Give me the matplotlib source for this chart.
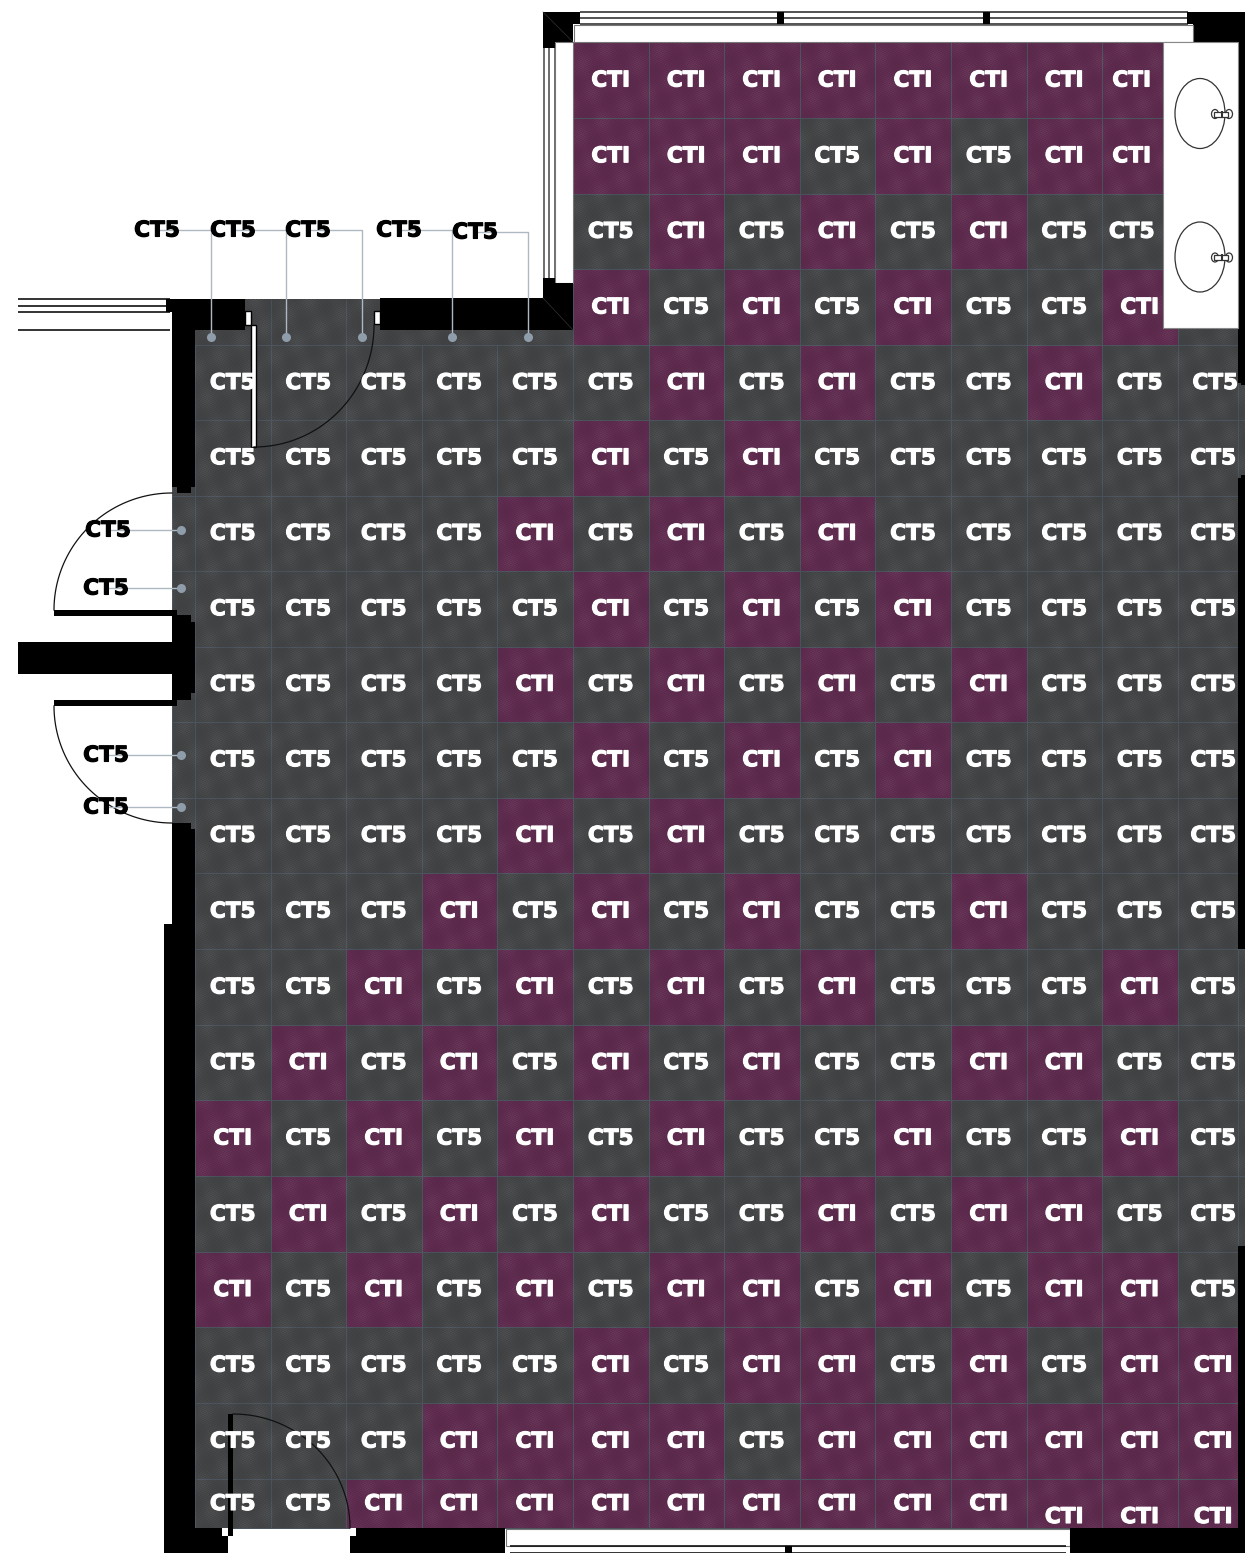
import numpy as np
import matplotlib
matplotlib.use("Agg")
import matplotlib.pyplot as plt
import matplotlib.patheffects as pe
from matplotlib.colors import ListedColormap
from matplotlib.patches import Rectangle, Ellipse

# ---- data: finish code for each floor cell, top row first ('.' = no cell) ----
rows = [
    ". . . . . I I I I I I I I .",
    ". . . . . I I I 5 I 5 I I .",
    ". . . . . 5 I 5 I 5 I 5 5 .",
    ". . . . . I 5 I 5 I 5 5 I .",
    "5 5 5 5 5 5 I 5 I 5 5 I 5 5",
    "5 5 5 5 5 I 5 I 5 5 5 5 5 5",
    "5 5 5 5 I 5 I 5 I 5 5 5 5 5",
    "5 5 5 5 5 I 5 I 5 I 5 5 5 5",
    "5 5 5 5 I 5 I 5 I 5 I 5 5 5",
    "5 5 5 5 5 I 5 I 5 I 5 5 5 5",
    "5 5 5 5 I 5 I 5 5 5 5 5 5 5",
    "5 5 5 I 5 I 5 I 5 5 I 5 5 5",
    "5 5 I 5 I 5 I 5 I 5 5 5 I 5",
    "5 I 5 I 5 I 5 I 5 5 I I 5 5",
    "I 5 I 5 I 5 I 5 5 I 5 5 I 5",
    "5 I 5 I 5 I 5 5 I 5 I I 5 5",
    "I 5 I 5 I 5 I I 5 I 5 I I 5",
    "5 5 5 5 5 I 5 I I 5 I 5 I I",
    "5 5 5 I I I I 5 I I I I I I",
    "5 5 I I I I I I I I I I I I",
]
code_names = {"5": "CT5", "I": "CTI"}
callouts = ["CT5"] * 9

# ---- layout (pixel space of the plan) ----
col_edges = [195, 270.5, 346, 421.5, 497, 573, 648.5, 724, 799.5, 875, 951, 1026.5, 1102, 1177.5, 1238]
row_edges = [42, 118, 193.5, 269, 345, 420, 495.5, 571, 646.5, 722, 797.5, 873, 949, 1025, 1100, 1176,
             1252, 1327, 1403, 1479, 1528]
C5 = "#434446"
CI = "#5e2b4e"
GRID = "#4b545e"
BK = "#000000"
LEAD = "#aeb8c2"
DOT = "#8f9dab"
FS = 15.6
cmap = ListedColormap([C5, CI])

fig = plt.figure(figsize=(12.45, 15.53), dpi=100, facecolor="white")
ax = fig.add_axes([0, 0, 1, 1])
ax.set_xlim(0, 1245)
ax.set_ylim(1553, 0)
ax.axis("off")


def box(x0, y0, x1, y1, fc=BK, ec=None, lw=0, z=3):
    ax.add_patch(Rectangle((x0, y0), x1 - x0, y1 - y0, facecolor=fc, edgecolor=ec if ec else fc,
                           linewidth=lw, zorder=z))


def hline(y, x0, x1, c="#222222", lw=1.0, z=3):
    ax.plot([x0, x1], [y, y], color=c, lw=lw, zorder=z, solid_capstyle="butt")


def vline(x, y0, y1, c="#222222", lw=1.0, z=3):
    ax.plot([x, x], [y0, y1], color=c, lw=lw, zorder=z, solid_capstyle="butt")


def arc(cx, cy, rx, ry, t0, t1):
    t = np.radians(np.linspace(t0, t1, 80))
    ax.plot(cx + rx * np.cos(t), cy + ry * np.sin(t), color="#111111", lw=0.9, zorder=5)


# floor cells
num = {".": 0, "5": 0, "I": 1}
Z = np.array([[num[c] for c in r.split()] for r in rows], dtype=float)
ex = np.array(col_edges, float)
ey = np.array(row_edges, float)

# strip of floor behind the north wall and beside the vanity
box(172, 299, 1245, 346, fc=C5, z=0.5)
vline(270.5, 299, 345, c=GRID, lw=0.7, z=0.6)
vline(346, 299, 345, c=GRID, lw=0.7, z=0.6)
# lower room, with slim extra strips at both walls
Zlow = np.column_stack([Z[4:, 0], Z[4:, :], Z[4:, -1]])
ax.pcolormesh(np.r_[172, ex, 1245], ey[4:], Zlow, cmap=cmap, vmin=0, vmax=1,
              edgecolors=GRID, linewidth=0.7, zorder=1)
# upper room
ax.pcolormesh(ex[5:14], ey[:5], Z[:4, 5:13], cmap=cmap, vmin=0, vmax=1,
              edgecolors=GRID, linewidth=0.7, zorder=1)

# woven carpet shading over the floor (an even weave with soft blotches)
X, Y = np.meshgrid(np.arange(172, 1245), np.arange(42, 1528))
shade = (0.25 * np.cos(np.pi * Y) * np.cos(np.pi * (X // 2))
         + 0.2 * np.sin(2.4 * X + 1.3 * Y)
         + 0.55 * np.sin(0.17 * X + 0.05 * Y) * np.sin(0.06 * X - 0.13 * Y))
tex = np.zeros(X.shape + (4,))
tex[..., :3] = (shade[..., None] > 0).astype(float)
tex[..., 3] = np.clip(np.abs(shade) * 0.07, 0, 0.08)
tex[(Y < 299) & (X < 573), 3] = 0
ax.imshow(tex, extent=(172, 1245, 1528, 42), aspect="auto", interpolation="nearest", zorder=1.5)
ax.set_xlim(0, 1245)
ax.set_ylim(1553, 0)

# upper-left window (left of the room)
for y in (299, 305.5, 311.5, 330):
    hline(y, 18, 170, c="#111111", lw=1.2)
box(166, 299, 245, 312)
box(172, 312, 245, 330)
box(172, 330, 195, 487)
box(177, 487, 191, 493)

# top door
box(245, 311, 251, 325, fc="white", ec=BK, lw=1.0, z=4)
box(251, 325, 256, 447, fc="white", ec=BK, lw=1.0, z=4)
box(374, 311, 380, 324, fc="white", ec=BK, lw=1.0, z=4)
arc(254, 325, 120, 122, 0, 90)
box(380, 298, 573, 330)
ax.plot([543, 573], [298, 330], color="#333333", lw=0.5, zorder=4)

# north-west corner and bay window
box(543, 12, 573, 42)
box(543, 42, 555, 48)
box(573, 12, 580, 24)
ax.plot([543, 573], [12, 42], color="#333333", lw=0.5, zorder=4)
for x in (543.5, 549, 555):
    vline(x, 48, 278, c="#555555", lw=1.2)
box(555, 42, 573, 283, fc="white", ec="#777777", lw=0.8)
box(543, 278, 555, 298)
box(555, 283, 573, 298)

# top window
for y in (12, 18, 24):
    hline(y, 580, 1188, c="#444444", lw=1.3)
box(777, 12, 783.5, 24)
box(983, 12, 990, 24)
box(1187, 12, 1194, 24)
box(1193, 12, 1245, 42)
box(573.5, 24.5, 1193, 42, fc="white", ec="#777777", lw=0.8)

# right wall
box(1238, 42, 1245, 383)
box(1241, 380, 1245, 385)
box(1238, 478, 1245, 949)
box(1241, 475, 1245, 480)
box(1238, 1246, 1245, 1528)

# vanity with basins
box(1162.5, 42, 1238, 328, fc="white", ec="#888888", lw=0.8)
for cy in (113.5, 257):
    ax.add_patch(Ellipse((1200, cy), 50, 70, facecolor="none", edgecolor="#333333", lw=0.9, zorder=5))
    ax.add_patch(Ellipse((1215, cy + 0.5), 7, 9, facecolor="none", edgecolor="#333333", lw=0.9, zorder=5))
    ax.add_patch(Ellipse((1229, cy + 0.5), 7, 9, facecolor="none", edgecolor="#333333", lw=0.9, zorder=5))
    box(1214, cy - 2, 1228, cy + 3, fc="white", ec="#333333", lw=0.9, z=5)
    vline(1222, cy - 3, cy + 4, c="#333333", lw=1.5, z=5)

# west doors and wall
box(172, 615, 191, 622)
box(172, 622, 195, 693)
box(172, 693, 191, 700)
box(18, 642, 172, 674)
box(54, 610, 177, 616)
box(54, 700, 177, 706)
arc(172, 610, 118, 117, 180, 270)
arc(172, 706, 118, 117, 90, 180)
box(172, 823, 191, 829)
box(172, 829, 195, 924)
box(164, 924, 195, 1528)

# south wall, door and window
box(164, 1528, 222, 1553)
box(222, 1536, 228, 1553)
box(222, 1528, 228, 1536, fc="white", z=3)
box(228, 1414, 233, 1536, z=5)
box(350, 1536, 505, 1553)
box(356, 1528, 505, 1536)
box(350, 1528, 356, 1536, fc="white", z=3)
arc(233, 1528, 117, 114, 270, 360)
box(505.5, 1528.5, 1070, 1546, fc="white", ec="#777777", lw=0.8)
hline(1546, 510, 1066, c="#111111", lw=1.2)
hline(1552.5, 510, 1066, c="#111111", lw=1.2)
box(785, 1546, 792, 1553)
box(1070, 1528, 1245, 1553)


def label(x, y, s, color, z):
    ax.text(x, y, s, color=color, fontsize=FS, fontweight="bold", family="DejaVu Sans",
            ha="center", va="center", zorder=z,
            path_effects=[pe.withStroke(linewidth=0.8, foreground=color, joinstyle="round")])


# cell labels
for i, r in enumerate(rows):
    for j, c in enumerate(r.split()):
        if c == ".":
            continue
        x = 0.5 * (col_edges[j] + col_edges[j + 1])
        y = 0.5 * (row_edges[i] + row_edges[i + 1]) + 0.5
        if j == 13:
            x += 5.5 + (2 if i == 4 else 0)
        if j == 12 and i < 3:
            x -= 8
        if i == 19 and j >= 11:
            y += 13
        label(x, y, code_names[c], "white", 7)

# callouts: label position, elbow and target
top_labels = [(157, 229, 211), (233, 229, 286), (308, 229, 362), (399, 229, 452), (475, 231, 528)]
side_labels = [(108, 529, 530), (106, 587, 588), (106, 754, 755), (106, 806, 807)]
k = 0
for lx, ly, tx in top_labels:
    ax.plot([lx, tx, tx], [ly + 0.5, ly + 0.5, 337], color=LEAD, lw=1.0, zorder=6)
    ax.plot([tx], [337], "o", color=DOT, ms=6.5, mew=0, zorder=6)
    label(lx, ly + 1.5, callouts[k], "black", 8)
    k += 1
for lx, ly, ty in side_labels:
    ax.plot([lx, 181], [ty, ty], color=LEAD, lw=1.0, zorder=6)
    ax.plot([181], [ty], "o", color=DOT, ms=6.5, mew=0, zorder=6)
    label(lx, ly + 1.5, callouts[k], "black", 8)
    k += 1

fig.savefig("out.png", dpi=100, facecolor="white")
